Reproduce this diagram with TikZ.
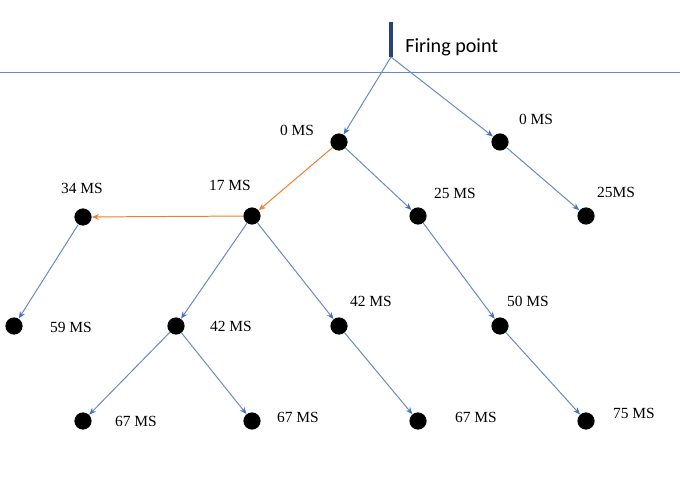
\documentclass[tikz,border=0pt]{standalone}
\usepackage{fontspec}
\setmainfont{Liberation Serif}
\newfontfamily\labelfont{Carlito}
\usetikzlibrary{arrows.meta}
\definecolor{lineblue}{RGB}{100,138,195}
\definecolor{tipblue}{RGB}{68,114,196}
\definecolor{barblue}{RGB}{38,66,118}
\definecolor{lineorange}{RGB}{237,125,49}
\begin{document}
\begin{tikzpicture}[x=0.025cm, y=-0.025cm,
    dot/.style={circle, fill=black, inner sep=0pt, minimum size=0.43cm},
    lbl/.style={font=\fontsize{11}{13}\selectfont, inner sep=0pt},
    edge/.style={lineblue, line width=0.7pt, -{Stealth[length=5pt, width=4pt, tipblue]}},
    orangeedge/.style={lineorange, line width=0.7pt, -{Stealth[length=5pt, width=4pt]}}]
        \useasboundingbox (0, 0) rectangle (680, 479);

        % Punto di sparo
        \draw[lineblue, line width=0.6pt] (0, 72) -- (680, 72);
        \coordinate (fptop) at (391, 22);
        \coordinate (fp) at (391, 57);
        \draw[barblue, line width=2.4pt] (fptop) -- (fp);
        \node[anchor=west, inner sep=0pt, font=\labelfont\fontsize{14.3}{16}\selectfont] (fplabel) at (405, 47) {Firing point};

        % Fori
        \node[dot] (a) at (339, 142) {};
        \node[dot] (b) at (500, 142) {};
        \node[dot] (c) at (252, 216) {};
        \node[dot] (d) at (83, 217) {};
        \node[dot] (e) at (418, 216) {};
        \node[dot] (f) at (586, 216) {};
        \node[dot] (g) at (14, 326) {};
        \node[dot] (h) at (176, 326) {};
        \node[dot] (i) at (339, 326) {};
        \node[dot] (j) at (500, 326) {};
        \node[dot] (k) at (83, 421) {};
        \node[dot] (l) at (252, 421) {};
        \node[dot] (m) at (418, 421) {};
        \node[dot] (n) at (586, 421) {};

        % Ritardi
        \node[lbl] (la) at (297, 130) {0 MS};
        \node[lbl] (lb) at (536, 119) {0 MS};
        \node[lbl] (lc) at (230, 185) {17 MS};
        \node[lbl] (ld) at (82, 188) {34 MS};
        \node[lbl] (le) at (455, 193) {25 MS};
        \node[lbl] (lf) at (616, 192) {25MS};
        \node[lbl] (lg) at (71, 327) {59 MS};
        \node[lbl] (lh) at (231, 326) {42 MS};
        \node[lbl] (li) at (371, 301) {42 MS};
        \node[lbl] (lj) at (528, 301) {50 MS};
        \node[lbl] (lk) at (136, 421) {67 MS};
        \node[lbl] (ll) at (298, 417) {67 MS};
        \node[lbl] (lm) at (476, 417) {67 MS};
        \node[lbl] (ln) at (634, 413) {75 MS};

        % Collegamenti
        \draw[edge] (fp) -- (a);
        \draw[edge] (fp) -- (b);
        \draw[orangeedge] (a) -- (c);
        \draw[edge] (a) -- (e);
        \draw[orangeedge] (c) -- (d);
        \draw[edge] (b) -- (f);
        \draw[edge] (d) -- (g);
        \draw[edge] (c) -- (h);
        \draw[edge] (c) -- (i);
        \draw[edge] (e) -- (j);
        \draw[edge] (h) -- (k);
        \draw[edge] (h) -- (l);
        \draw[edge] (i) -- (m);
        \draw[edge] (j) -- (n);

    \end{tikzpicture}
\end{document}
